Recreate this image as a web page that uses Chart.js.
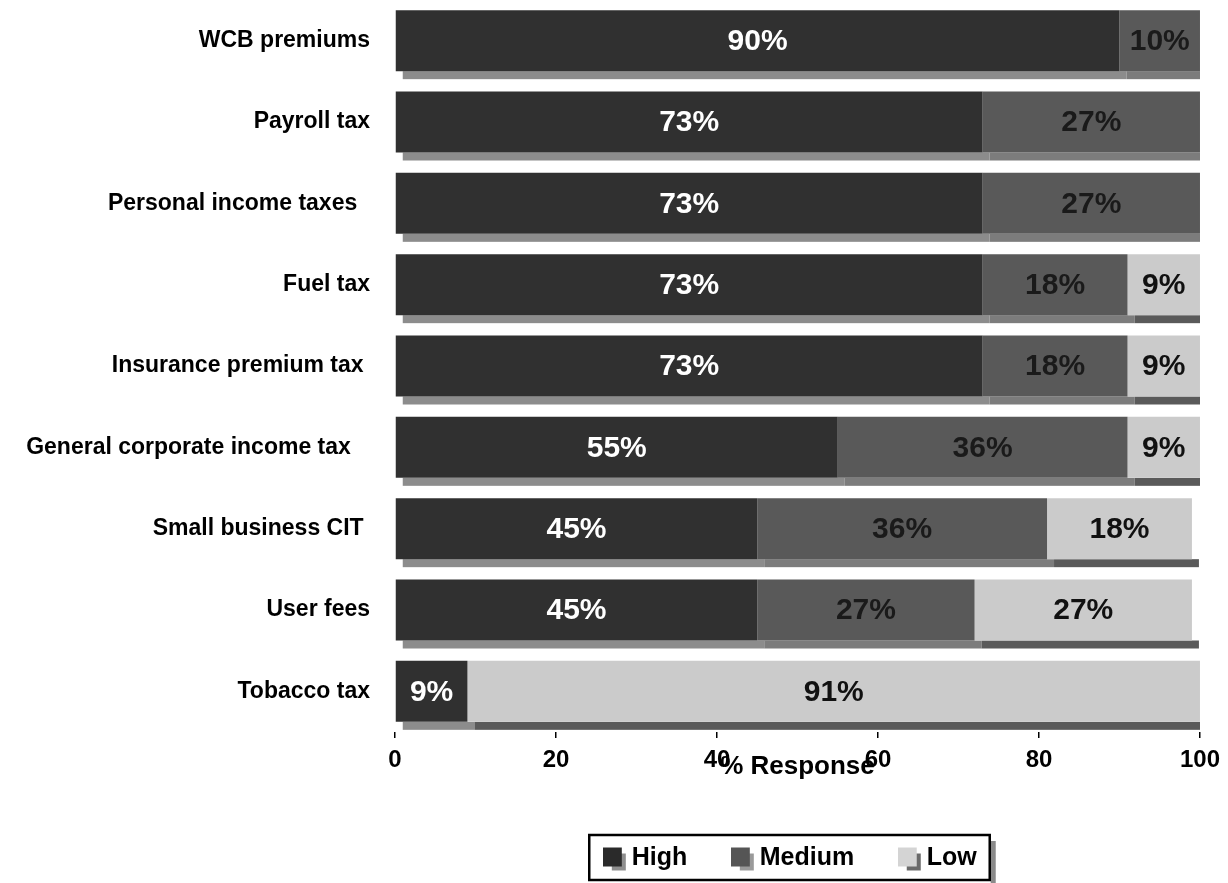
<!DOCTYPE html>
<html lang="en">
<head>
<meta charset="UTF-8">
<title>Tax ratings</title>
<script src="https://cdn.jsdelivr.net/npm/chart.js"></script>
<style>
  body { margin: 0; background: #fff; }
  #wrap { width: 1228px; height: 883px; }
</style>
</head>
<body>
<div id="wrap"><canvas id="taxChart"></canvas></div>
<script>
// survey responses, % of respondents per rating
const categories = ['WCB premiums', 'Payroll tax', 'Personal income taxes  ', 'Fuel tax', 'Insurance premium tax ',
  'General corporate income tax   ', 'Small business CIT ', 'User fees', 'Tobacco tax'];
const highValues = [90, 73, 73, 73, 73, 55, 45, 45, 9];
const mediumValues = [10, 27, 27, 18, 18, 36, 36, 27, 0];
const lowValues = [0, 0, 0, 9, 9, 9, 18, 27, 91];
const xTicks = [0, 20, 40, 60, 80, 100];

const SANS = '"Liberation Sans", Arial, sans-serif';
const NARROW = '"Liberation Sans Narrow", "Arial Narrow", ' + SANS;
Chart.defaults.font.family = SANS;
Chart.defaults.color = '#000';

// little two-square legend swatch with a 3D-ish back face
function legendIcon(front, back) {
  const c = document.createElement('canvas');
  c.width = 24; c.height = 26;
  const g = c.getContext('2d');
  g.fillStyle = back;
  g.fillRect(9, 8, 14, 17);
  g.fillStyle = front;
  g.fillRect(0, 2, 19, 19);
  return c;
}

// floor strip drawn under each bar segment
const floorShadow = {
  id: 'floorShadow',
  beforeDatasetsDraw(chart) {
    const { ctx, chartArea } = chart;
    ctx.save();
    ctx.beginPath();
    ctx.rect(chartArea.left, chartArea.top, chartArea.width, chartArea.height + 20);
    ctx.clip();
    chart.data.datasets.forEach((ds, di) => {
      chart.getDatasetMeta(di).data.forEach(bar => {
        const w = bar.x - bar.base;
        if (w <= 0) return;
        ctx.fillStyle = ds.floorColor;
        ctx.fillRect(bar.base + 7, bar.y + bar.height / 2, w, 8);
      });
    });
    ctx.restore();
  }
};

// percentage written in the middle of each segment
const barLabels = {
  id: 'barLabels',
  afterDatasetsDraw(chart) {
    const { ctx } = chart;
    ctx.save();
    ctx.font = 'bold 30px ' + SANS;
    ctx.textAlign = 'center';
    ctx.textBaseline = 'middle';
    chart.data.datasets.forEach((ds, di) => {
      chart.getDatasetMeta(di).data.forEach((bar, i) => {
        const v = ds.data[i];
        if (!v) return;
        ctx.fillStyle = ds.labelColor;
        ctx.fillText(v + '%', (bar.x + bar.base) / 2, bar.y + 1);
      });
    });
    ctx.restore();
  }
};

// move the legend under the plot and frame it
const legendFrame = {
  id: 'legendFrame',
  afterLayout(chart) {
    const lg = chart.legend;
    const ca = chart.chartArea;
    const shift = (ca.left + ca.right) / 2 - 4 - (lg.left + lg.right) / 2;
    lg.left += shift;
    lg.right += shift;
  },
  afterDraw(chart) {
    const boxes = chart.legend.legendHitBoxes;
    if (!boxes || !boxes.length) return;
    const left = Math.min(...boxes.map(b => b.left)) - 21;
    const right = Math.max(...boxes.map(b => b.left + b.width)) + 13;
    const top = boxes[0].top - 11;
    const bottom = boxes[0].top + boxes[0].height + 9;
    const { ctx } = chart;
    ctx.save();
    ctx.fillStyle = '#8a8a8a';
    ctx.fillRect(right + 1, top + 6, 5, bottom - top - 2);
    ctx.strokeStyle = '#000';
    ctx.lineWidth = 2.5;
    ctx.strokeRect(left, top, right - left, bottom - top);
    ctx.restore();
  }
};

const ctx = document.getElementById('taxChart').getContext('2d');
const taxChart = new Chart(ctx, {
  type: 'bar',
  data: {
    labels: categories,
    datasets: [
      { label: 'High', data: highValues, backgroundColor: '#303030', floorColor: '#8c8c8c', labelColor: '#fff',
        icon: legendIcon('#2a2a2a', '#8e8e8e') },
      { label: 'Medium', data: mediumValues, backgroundColor: '#595959', floorColor: '#7c7c7c', labelColor: '#1a1a1a',
        icon: legendIcon('#555555', '#9a9a9a') },
      { label: 'Low', data: lowValues, backgroundColor: '#cbcbcb', floorColor: '#5a5a5a', labelColor: '#111',
        icon: legendIcon('#d4d4d4', '#6a6a6a') }
    ]
  },
  options: {
    indexAxis: 'y',
    responsive: true,
    maintainAspectRatio: false,
    animation: false,
    barPercentage: 0.75,
    categoryPercentage: 1,
    layout: { padding: { top: 0, right: 20, bottom: 2, left: 0 } },
    scales: {
      x: {
        stacked: true,
        min: 0,
        max: 100,
        afterBuildTicks: axis => { axis.ticks = xTicks.map(v => ({ value: v })); },
        afterFit: axis => { axis.height = 63; },
        border: { display: false },
        grid: { drawOnChartArea: false, drawTicks: true, tickLength: 6, color: '#000', lineWidth: 1.5 },
        ticks: { font: { family: NARROW, size: 24, weight: 'bold' }, padding: 8, maxRotation: 0 },
        title: {
          display: true,
          text: '% Response',
          font: { family: NARROW, size: 26, weight: 'bold' },
          padding: { top: 0, bottom: 13 }
        }
      },
      y: {
        stacked: true,
        // the category offset already leaves room for the end labels
        afterFit: axis => { axis.width = 395; axis.paddingTop = 0; axis.paddingBottom = 0; },
        border: { display: false },
        grid: { drawOnChartArea: false, drawTicks: true, tickLength: 25, color: 'rgba(0,0,0,0)' },
        ticks: { font: { size: 23, weight: 'bold' }, padding: 0 }
      }
    },
    plugins: {
      tooltip: { enabled: false },
      legend: {
        position: 'bottom',
        labels: {
          usePointStyle: true,
          pointStyleWidth: 9,
          padding: 51,
          font: { family: NARROW, size: 25, weight: 'bold' },
          generateLabels: chart => chart.data.datasets.map((ds, i) => ({
            text: ds.label,
            pointStyle: ds.icon,
            datasetIndex: i,
            fontColor: '#000',
            lineWidth: 0
          }))
        }
      }
    }
  },
  plugins: [floorShadow, barLabels, legendFrame]
});
</script>
</body>
</html>
